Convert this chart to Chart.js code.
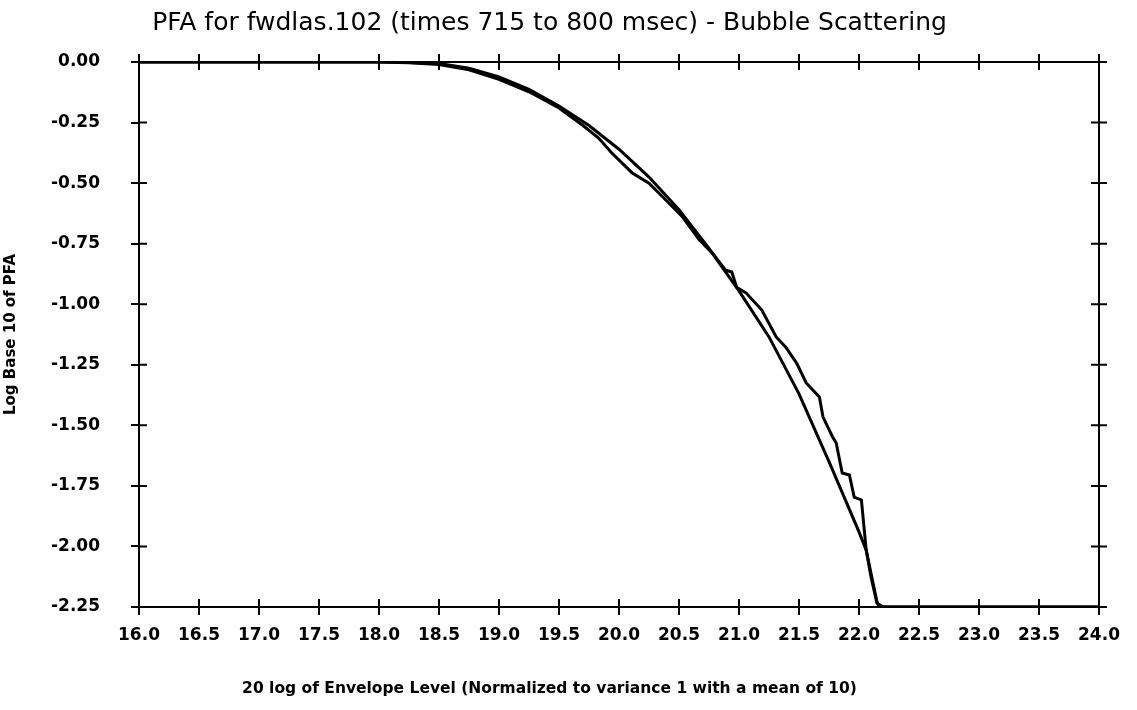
<!DOCTYPE html>
<html>
<head>
<meta charset="utf-8">
<script src="https://cdn.jsdelivr.net/npm/chart.js@4/dist/chart.umd.min.js"></script>
<style>
  html, body { margin: 0; padding: 0; background: #fff; }
  #wrap { width: 1137px; height: 710px; position: relative; }
</style>
</head>
<body>
<div id="wrap"><canvas id="c"></canvas></div>
<script>
// ---- data ----
const chartTitle = "PFA for fwdlas.102 (times 715 to 800 msec) - Bubble Scattering";
const xAxisTitle = "20 log of Envelope Level (Normalized to variance 1 with a mean of 10)";
const yAxisTitle = "Log Base 10 of PFA";

// smooth (theoretical) curve
const theoryX = [16.0, 18.0, 18.25, 18.5, 18.75, 19.0, 19.25, 19.5, 19.75, 20.0, 20.25, 20.5, 20.75, 21.0, 21.25, 21.5, 21.75, 22.0, 22.06, 22.15, 22.17, 24.0];
const theoryY = [0.0, 0.0, -0.002, -0.006, -0.026, -0.062, -0.113, -0.182, -0.262, -0.36, -0.475, -0.61, -0.77, -0.945, -1.135, -1.37, -1.65, -1.94, -2.015, -2.23, -2.25, -2.25];

// jagged (measured) curve
const measuredX = [16.0, 18.0, 18.25, 18.5, 18.75, 19.0, 19.25, 19.5, 19.7, 19.83, 19.94, 20.11, 20.25, 20.39, 20.53, 20.67, 20.78, 20.89, 20.94, 20.98, 21.06, 21.19, 21.31, 21.39, 21.48, 21.56, 21.67, 21.7, 21.78, 21.81, 21.86, 21.92, 21.96, 22.02, 22.06, 22.1, 22.15, 22.2, 24.0];
const measuredY = [0.0, 0.0, -0.003, -0.01, -0.032, -0.072, -0.123, -0.19, -0.262, -0.314, -0.376, -0.458, -0.5, -0.57, -0.64, -0.735, -0.79, -0.86, -0.867, -0.93, -0.954, -1.024, -1.135, -1.177, -1.243, -1.325, -1.383, -1.466, -1.548, -1.573, -1.697, -1.705, -1.796, -1.808, -2.015, -2.126, -2.234, -2.25, -2.25];

const xMin = 16.0, xMax = 24.0, xStep = 0.5;
const yMin = -2.25, yMax = 0.0, yStep = 0.25;

const toPoints = (xs, ys) => xs.map((x, i) => ({ x: x, y: ys[i] }));

const tickFont = { family: "'DejaVu Sans', sans-serif", size: 17, weight: 'bold' };

const frameTicks = {
  id: 'frameTicks',
  afterDraw(chart) {
    const { ctx, chartArea } = chart;
    const { left, right, top, bottom } = chartArea;
    const xs = chart.scales.x, ys = chart.scales.y;
    ctx.save();
    ctx.strokeStyle = '#000';
    ctx.lineWidth = 2;
    ctx.strokeRect(left, top, right - left, bottom - top);
    ctx.beginPath();
    xs.ticks.forEach(t => {
      const px = xs.getPixelForValue(t.value);
      ctx.moveTo(px, top - 8); ctx.lineTo(px, top + 8);
      ctx.moveTo(px, bottom - 8); ctx.lineTo(px, bottom);
    });
    ys.ticks.forEach(t => {
      const py = ys.getPixelForValue(t.value);
      ctx.moveTo(left, py); ctx.lineTo(left + 8, py);
      ctx.moveTo(right - 8, py); ctx.lineTo(right + 8, py);
    });
    ctx.stroke();
    ctx.restore();
  }
};

new Chart(document.getElementById('c'), {
  type: 'line',
  data: {
    datasets: [
      {
        label: 'Theoretical',
        data: toPoints(theoryX, theoryY),
        borderColor: '#000',
        borderWidth: 3,
        pointRadius: 0,
        tension: 0,
        fill: false
      },
      {
        label: 'Measured',
        data: toPoints(measuredX, measuredY),
        borderColor: '#000',
        borderWidth: 3,
        pointRadius: 0,
        tension: 0,
        fill: false
      }
    ]
  },
  options: {
    responsive: true,
    maintainAspectRatio: false,
    animation: false,
    layout: { padding: { left: 0, right: 38, top: 0, bottom: 0 } },
    plugins: {
      legend: { display: false },
      tooltip: { enabled: false },
      title: {
        display: true,
        text: chartTitle,
        color: '#000',
        font: { family: "'DejaVu Sans', sans-serif", size: 25, weight: 'normal' },
        padding: { top: 8, bottom: 24 }
      },
      subtitle: {
        display: true,
        position: 'bottom',
        text: xAxisTitle,
        color: '#000',
        font: { family: "'DejaVu Sans', sans-serif", size: 15.5, weight: 'bold' },
        padding: { top: 24, bottom: 12 }
      }
    },
    scales: {
      x: {
        type: 'linear',
        min: xMin,
        max: xMax,
        border: { display: true, color: '#000', width: 2 },
        grid: { display: true, drawOnChartArea: false, drawTicks: true, tickLength: 8, color: '#000', lineWidth: 2 },
        ticks: {
          stepSize: xStep,
          color: '#000',
          font: tickFont,
          padding: 10,
          maxRotation: 0,
          autoSkip: false,
          callback: v => Number(v).toFixed(1)
        }
      },
      y: {
        type: 'linear',
        min: yMin,
        max: yMax,
        border: { display: true, color: '#000', width: 2 },
        grid: { display: true, drawOnChartArea: false, drawTicks: true, tickLength: 8, color: '#000', lineWidth: 2 },
        title: {
          display: true,
          text: yAxisTitle,
          color: '#000',
          font: { family: "'DejaVu Sans', sans-serif", size: 15, weight: 'bold' },
          padding: { top: 2, bottom: 0 }
        },
        ticks: {
          stepSize: yStep,
          color: '#000',
          font: tickFont,
          padding: 31,
          autoSkip: false,
          callback: v => Number(v).toFixed(2)
        }
      }
    }
  },
  plugins: [frameTicks]
});
</script>
</body>
</html>
